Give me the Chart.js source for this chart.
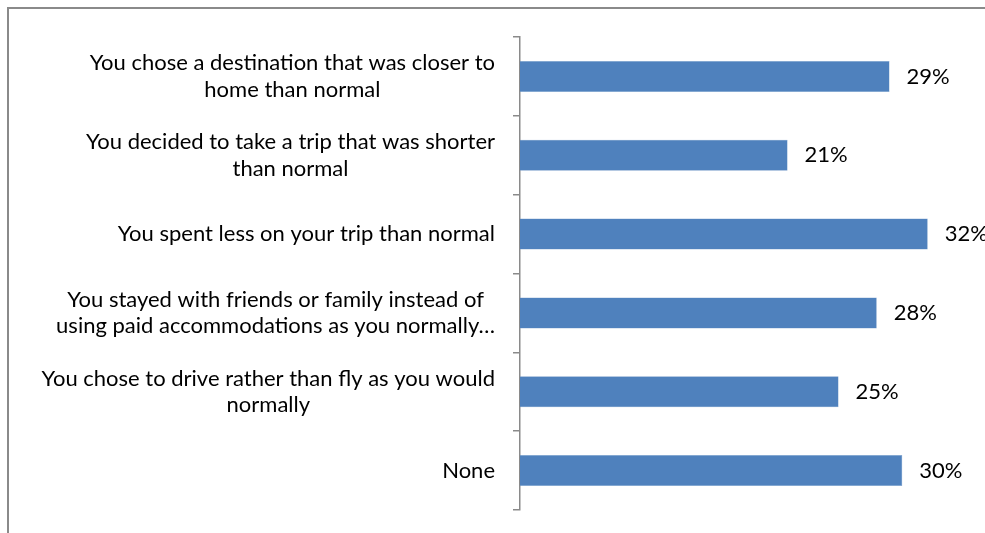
<!DOCTYPE html>
<html>
<head>
<meta charset="utf-8">
<script src="https://cdn.jsdelivr.net/npm/chart.js@4/dist/chart.umd.min.js"></script>
<style>
  html, body { margin: 0; padding: 0; background: #fff; overflow: hidden; }
  #wrap { position: relative; width: 985px; height: 533px; }
  #frame { position: absolute; left: 7px; top: 7px; width: 1000px; height: 600px;
           border: 2px solid #8a8a8a; box-sizing: border-box; }
  #chart { position: absolute; left: 0; top: 0; }
</style>
</head>
<body>
<div id="wrap">
  <div id="frame"></div>
  <canvas id="chart" width="985" height="533"></canvas>
</div>
<script>
// Survey responses: how travel plans changed
const categories = [
  ['You chose a destination that was closer to', 'home than normal'],
  ['You decided to take a trip that was shorter', 'than normal'],
  ['You spent less on your trip than normal'],
  ['You stayed with friends or family instead of', 'using paid accommodations as you normally…'],
  ['You chose to drive rather than fly as you would', 'normally'],
  ['None']
];
const shares = [29, 21, 32, 28, 25, 30];   // percent of respondents

const FONT_FAMILY = 'Lato, "Open Sans", sans-serif';
const FONT_SIZE = 22;
const LINE_HEIGHT = 26.5;

// Multi-line category labels: each block right-aligned to the axis, lines centred within it
const categoryLabels = {
  id: 'categoryLabels',
  afterDraw(chart) {
    const { ctx, chartArea } = chart;
    const y = chart.scales.y;
    const rightEdge = chartArea.left - 25;
    ctx.save();
    ctx.font = FONT_SIZE + 'px ' + FONT_FAMILY;
    ctx.fillStyle = '#000';
    ctx.textAlign = 'center';
    ctx.textBaseline = 'middle';
    categories.forEach((lines, i) => {
      const cy = y.getPixelForTick(i);
      const w = Math.max(...lines.map(l => ctx.measureText(l).width));
      const cx = rightEdge - w / 2;
      lines.forEach((line, j) => {
        ctx.fillText(line, cx, cy + (j - (lines.length - 1) / 2) * LINE_HEIGHT);
      });
    });
    ctx.restore();
  }
};

// Percentage labels at the end of each bar
const valueLabels = {
  id: 'valueLabels',
  afterDatasetsDraw(chart) {
    const { ctx } = chart;
    const meta = chart.getDatasetMeta(0);
    ctx.save();
    ctx.font = FONT_SIZE + 'px ' + FONT_FAMILY;
    ctx.fillStyle = '#000';
    ctx.textAlign = 'left';
    ctx.textBaseline = 'middle';
    meta.data.forEach((bar, i) => {
      ctx.fillText(shares[i] + '%', bar.x + 17, bar.y);
    });
    ctx.restore();
  }
};

new Chart(document.getElementById('chart'), {
  type: 'bar',
  data: {
    labels: categories,
    datasets: [{
      data: shares,
      backgroundColor: '#4F81BD',
      borderColor: '#7B9FCB',
      borderWidth: 0.5,
      categoryPercentage: 1,
      barPercentage: 0.393
    }]
  },
  options: {
    indexAxis: 'y',
    responsive: false,
    animation: false,
    layout: { padding: { left: 0, right: 19, top: 37, bottom: 23 } },
    plugins: { legend: { display: false }, tooltip: { enabled: false } },
    scales: {
      x: {
        display: false,
        min: 0,
        max: 35
      },
      y: {
        offset: true,
        afterFit(scale) { scale.width = 520; },
        ticks: { display: false },
        grid: {
          offset: true,
          drawOnChartArea: false,
          drawTicks: true,
          tickLength: 7,
          color: '#8a8a8a',
          lineWidth: 1.5
        },
        border: { display: true, color: '#8a8a8a', width: 1.5 }
      }
    }
  },
  plugins: [categoryLabels, valueLabels]
});
</script>
</body>
</html>
